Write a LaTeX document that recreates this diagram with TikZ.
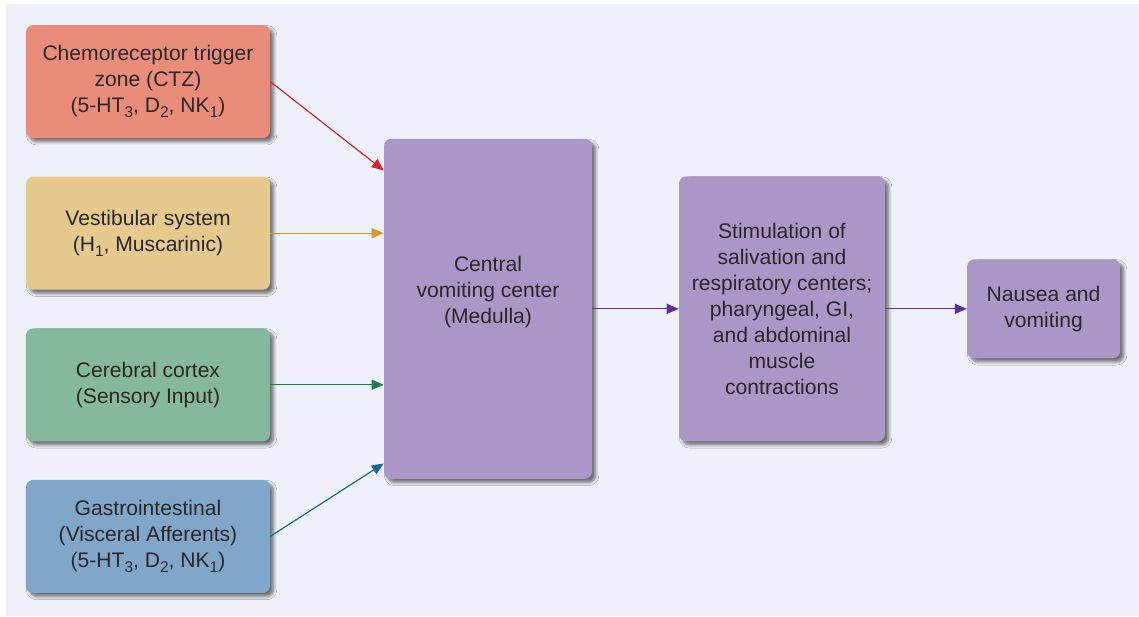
\documentclass[tikz,border=0pt]{standalone}
\usepackage{fontspec}
\setmainfont{Liberation Sans}
\usetikzlibrary{arrows.meta,calc,shadows.blur}

\definecolor{bgpage}{HTML}{EEF1F9}
\definecolor{ctzfill}{HTML}{E98D7A}
\definecolor{vestfill}{HTML}{E5C98D}
\definecolor{cortexfill}{HTML}{86B89B}
\definecolor{gifill}{HTML}{80A7CA}
\definecolor{vcfill}{HTML}{AA97C8}
\definecolor{txtdark}{HTML}{2A2627}
\definecolor{ctzline}{HTML}{D9202E}
\definecolor{vestline}{HTML}{D4991F}
\definecolor{cortexline}{HTML}{1B7D4B}
\definecolor{giline}{HTML}{17689A}
\definecolor{vcline}{HTML}{5E2F94}

% lowered index for receptor names
\newcommand{\rsub}[1]{\raisebox{-0.45ex}{\fontsize{11}{11}\selectfont #1}}

\begin{document}
\begin{tikzpicture}[
  label text/.style={align=center, text=txtdark, font=\fontsize{15}{18.5}\selectfont},
  box/.style={label text, rectangle, rounded corners=0.18cm,
    blur shadow={shadow xshift=0.09cm, shadow yshift=-0.09cm, shadow blur steps=6,
      shadow blur radius=0.08cm, shadow opacity=55}},
  inbox/.style={box, minimum width=6.1cm, minimum height=2.825cm},
  link/.style={-{Triangle[length=0.3cm,width=0.25cm]}, line width=0.85pt},
  node distance=3.79cm
]
\useasboundingbox (0,0) rectangle (28.475,-15.4);
\fill[bgpage] (0.15,-0.1) rectangle (28.475,-15.4);

% inputs down the left side
\node[inbox, fill=ctzfill] (ctz) at (3.7,-2.04) {Chemoreceptor trigger\\zone (CTZ)\\(5-HT\rsub{3}, D\rsub{2}, NK\rsub{1})};
\node[inbox, fill=vestfill, below of=ctz] (vest) {Vestibular system\\(H\rsub{1}, Muscarinic)};
\node[inbox, fill=cortexfill, below of=vest] (cortex) {Cerebral cortex\\(Sensory Input)};
\node[inbox, fill=gifill, below of=cortex] (gi) {Gastrointestinal\\(Visceral Afferents)\\(5-HT\rsub{3}, D\rsub{2}, NK\rsub{1})};

% vomiting center and what follows
\node[box, fill=vcfill, minimum width=5.2cm, minimum height=8.5cm, right of=vest, node distance=8.5cm, yshift=-1.89cm] (center) {};
\node[label text, yshift=0.42cm] (center_txt) at (center) {Central\\vomiting center\\(Medulla)};
\node[box, fill=vcfill, minimum width=5.15cm, minimum height=6.625cm, right of=center, node distance=7.35cm] (stim) {Stimulation of\\salivation and\\respiratory centers;\\pharyngeal, GI,\\and abdominal\\muscle\\contractions};
\node[box, fill=vcfill, minimum width=3.825cm, minimum height=2.475cm, right of=stim, node distance=6.54cm] (nausea) {Nausea and\\vomiting};

\draw[link, ctzline] (ctz.east) -- (center.127);
\draw[link, vestline] (vest.east) -- (vest.east -| center.west);
\draw[link, cortexline] (cortex.east) -- (cortex.east -| center.west);
\draw[link, giline] (gi.east) -- (center.236);
\draw[link, vcline] (center.east) -- (center.east -| stim.west);
\draw[link, vcline] (stim.east) -- (stim.east -| nausea.west);
\end{tikzpicture}
\end{document}
